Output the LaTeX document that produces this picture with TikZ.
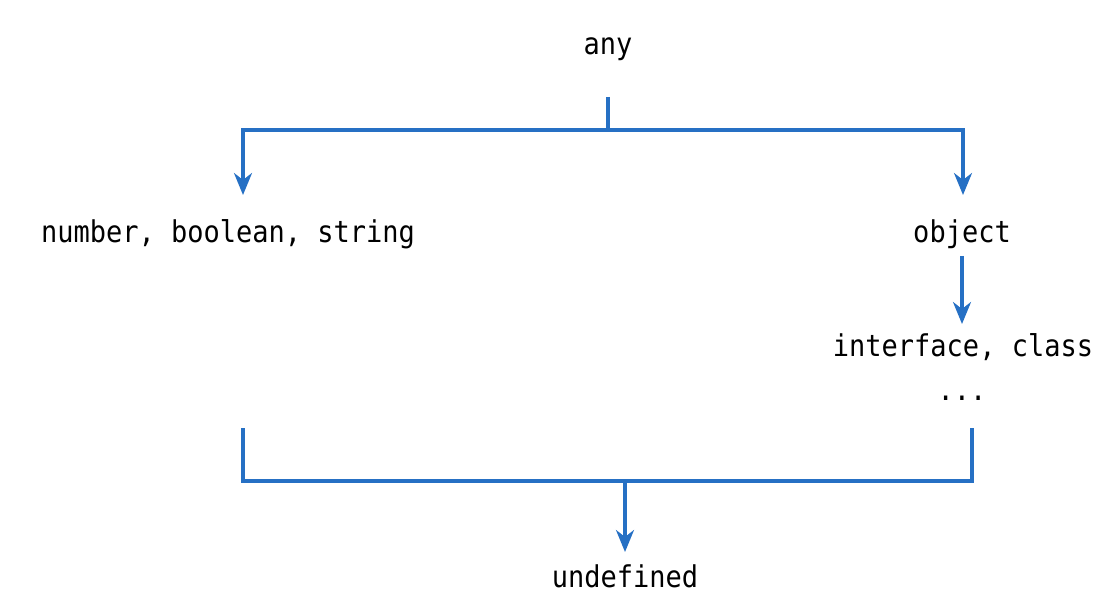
\documentclass[tikz,border=0pt]{standalone}
\usepackage{fontspec}
\setmonofont[FakeStretch=0.9]{DejaVu Sans Mono}
\usetikzlibrary{calc}
\usetikzlibrary{positioning}
\usetikzlibrary{arrows.meta}
\definecolor{linkblue}{RGB}{38,112,196}

\begin{document}
\begin{tikzpicture}[%
  x=0.5pt, y=-0.5pt,
  >={Stealth[length=11pt,width=9pt,inset=3.5pt]},
  link/.style={draw=linkblue, line width=1.6pt},
  tname/.style={font=\ttfamily\fontsize{15pt}{18pt}\selectfont, inner sep=0pt, anchor=base},
]
  \useasboundingbox (0,0) rectangle (1108,604);

  \node[tname] (any)   at (608,55)  {any};
  \node[tname] (prim)  at (228,243) {number, boolean, string};
  \node[tname] (obj)   at (962,243) {object};
  \node[tname] (iface) at (963,357) {interface, class};
  \node[tname] (more)  at (962,400) {...};
  \node[tname] (undef) at (625,587) {undefined};

  \coordinate (anyout)  at (608,97);
  \coordinate (split)   at (608,130);
  \coordinate (primin)  at (243,195);
  \coordinate (objin)   at (963,195);
  \coordinate (objout)  at (962,256);
  \coordinate (ifacein) at (962,324);
  \coordinate (primout) at (243,428);
  \coordinate (moreout) at (972,428);
  \coordinate (join)    at (625,481);
  \coordinate (undefin) at (625,552);

  \draw[link] (anyout) -- (split);
  \draw[link,->] (split) -| (primin);
  \draw[link,->] (split) -| (objin);
  \draw[link,->] (objout) -- (ifacein);
  \draw[link] (primout) |- (join) -| (moreout);
  \draw[link,->] (join) -- (undefin);

\end{tikzpicture}
\end{document}
